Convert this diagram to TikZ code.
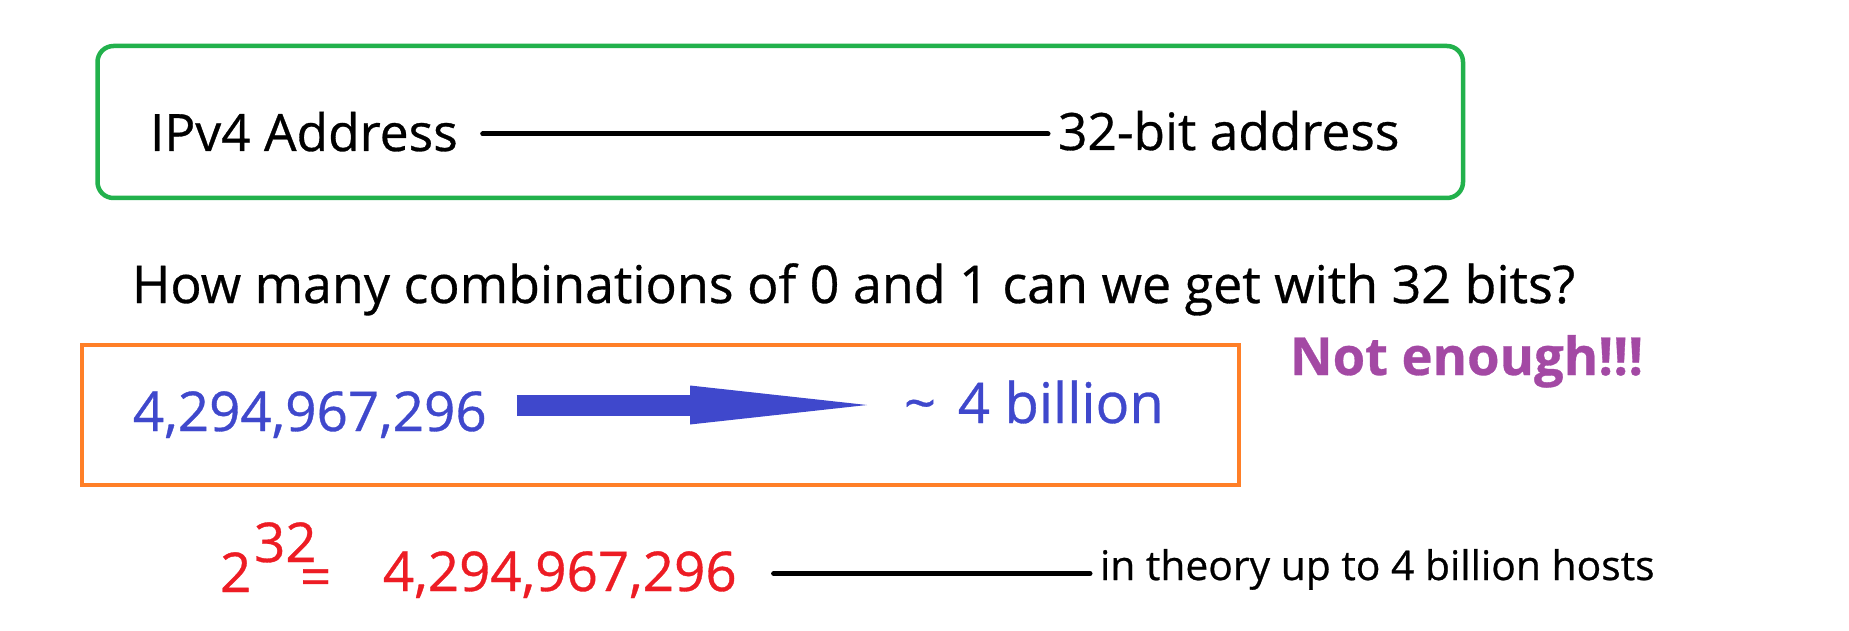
\documentclass[tikz,border=0pt]{standalone}
\usepackage{fontspec}
\setmainfont{Open Sans}[FakeBold=0.6]
\usetikzlibrary{arrows.meta,calc}
\definecolor{boxgreen}{RGB}{34,177,76}
\definecolor{boxorange}{RGB}{255,127,39}
\definecolor{indigo}{RGB}{63,72,204}
\definecolor{redC}{RGB}{237,28,36}
\definecolor{purpleC}{RGB}{163,73,164}
\begin{document}
\begin{tikzpicture}[x=1pt,y=-1pt,
  txt/.style={inner sep=0pt,outer sep=0pt,anchor=base west},
  link/.style={line width=5pt,line cap=round,black},
  fa/.style={font=\fontsize{51.5}{60}\selectfont},
  fb/.style={font=\fontsize{54.8}{64}\selectfont},
  fc/.style={font=\fontsize{40.8}{48}\selectfont}]
\useasboundingbox (0,0) rectangle (1849,631);
% boxes
\draw[boxgreen,line width=4.5pt,rounded corners=16pt] (97.5,46) rectangle (1463,198);
\draw[boxorange,line width=4pt] (82,345) rectangle (1238.5,485);
% top row
\node[txt,fa] (ipv4) at (150,151) {IPv4 Address};
\node[txt,fa] (bit32) at (1058,150) {32-bit address};
\draw[link] ($(ipv4.base east)+(25,-17)$) -- ($(bit32.base west)+(-10,-16)$);
% question
\node[txt,font=\fontsize{52}{62}\selectfont] (how) at (132,303) {How many combinations of 0 and 1 can we get with 32 bits?};
% blue row
\node[txt,fb,text=indigo] (blue1) at (133,431) {4,294,967,296};
\node[txt,font=\fontsize{56}{66}\selectfont,text=indigo] (bill) at (904,423) {\textasciitilde\hspace{22pt}4 billion};
\draw[indigo,line width=21pt,-{Triangle[length=177pt,width=39pt,line width=0pt]}]
  ($(blue1.base east)+(30,-26)$) -- ($(bill.base west)+(-37,-18)$);
% not enough
\node[txt,font=\fontsize{52.5}{63}\selectfont\bfseries,text=purpleC] (noten) at (1290,375) {Not enough!!!};
% red row
\node[txt,fb,text=redC] (two) at (220,592) {2};
\node[txt,fb,text=redC] (exp) at (254,562) {32};
\node[txt,fb,text=redC] (eq) at (300,596) {=};
\node[txt,fb,text=redC] (red1) at (383,591) {4,294,967,296};
\node[txt,fc] (theory) at (1100,580) {in theory up to 4 billion hosts};
\draw[link] ($(red1.base east)+(37,-17.5)$) -- ($(theory.base west)+(-10,-6.5)$);
\end{tikzpicture}
\end{document}
